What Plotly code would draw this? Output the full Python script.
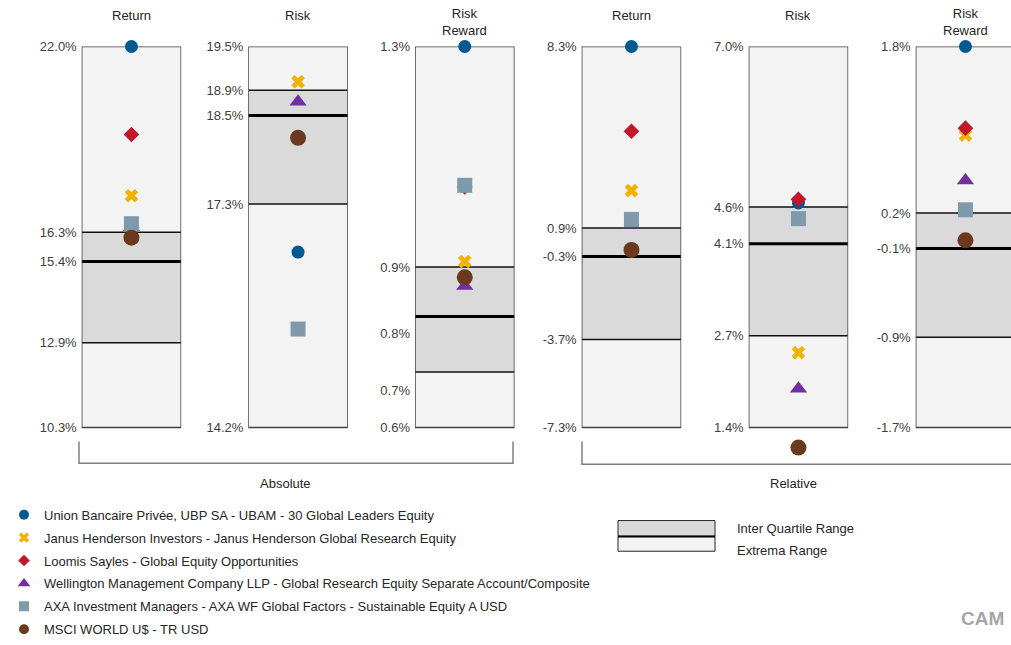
import plotly.graph_objects as go

W, H = 1011, 645

# panel titles and groups
panel_titles = ["Return", "Risk", "Risk<br>Reward", "Return", "Risk", "Risk<br>Reward"]
group_names = ["Absolute", "Relative"]

# box values per panel (in %)
box_min = [10.3, 14.2, 0.6, -7.3, 1.4, -1.7]
box_q1 = [12.9, 17.31, 0.702, -3.7, 2.75, -0.87]
box_med = [15.4, 18.54, 0.804, -0.3, 4.1, -0.055]
box_q3 = [16.3, 18.89, 0.895, 0.87, 4.64, 0.27]
box_max = [22.0, 19.5, 1.3, 8.3, 7.0, 1.8]

# tick labels as printed on the chart
tick_vals = [
    [22.0, 16.3, 15.4, 12.9, 10.3],
    [19.5, 18.89, 18.54, 17.31, 14.2],
    [1.3, 0.895, 0.773, 0.669, 0.6],
    [8.3, 0.87, -0.3, -3.7, -7.3],
    [7.0, 4.64, 4.1, 2.75, 1.4],
    [1.8, 0.27, -0.055, -0.87, -1.7],
]
tick_text = [
    ["22.0%", "16.3%", "15.4%", "12.9%", "10.3%"],
    ["19.5%", "18.9%", "18.5%", "17.3%", "14.2%"],
    ["1.3%", "0.9%", "0.8%", "0.7%", "0.6%"],
    ["8.3%", "0.9%", "-0.3%", "-3.7%", "-7.3%"],
    ["7.0%", "4.6%", "4.1%", "2.7%", "1.4%"],
    ["1.8%", "0.2%", "-0.1%", "-0.9%", "-1.7%"],
]

# series values per panel
ubp = [22.0, 16.64, 1.3, 8.3, 4.70, 1.8]
janus = [17.42, 19.01, 0.905, 2.40, 2.50, 0.985]
loomis = [19.30, 18.23, 1.042, 4.83, 4.755, 1.05]
wellington = [16.45, 18.73, 0.86, 1.0, 1.97, 0.57]
axa = [16.56, 15.57, 1.045, 1.22, 4.47, 0.30]
msci = [16.13, 18.23, 0.876, -0.03, 1.105, 0.02]

# name, values, symbol, colour, marker size, legend marker size
series = [
    ("Union Bancaire Privée, UBP SA - UBAM - 30 Global Leaders Equity", ubp, "circle", "#005A8F", 13, 10),
    ("Janus Henderson Investors - Janus Henderson Global Research Equity", janus, "x", "#F2B200", 12, 9),
    ("Loomis Sayles - Global Equity Opportunities", loomis, "diamond", "#C4162B", 12, 9),
    ("Wellington Management Company LLP - Global Research Equity Separate Account/Composite", wellington, "triangle-up", "#7030A0", 15, 11),
    ("AXA Investment Managers - AXA WF Global Factors - Sustainable Equity A USD", axa, "square", "#7F9BAB", 15, 10),
    ("MSCI WORLD U$ - TR USD", msci, "circle", "#6B3A1E", 16, 10),
]

FONT = "Arial, Liberation Sans, sans-serif"
FS = 13

# pixel layout of the panels
left_px = [81.7, 248.3, 415.0, 581.7, 748.7, 915.7]
box_w = 99.5
top_px, bot_px = 47, 432
pad_px = 35  # room below each box for points that fall outside the extrema
VK = 1.01    # small vertical correction for the capture


def px_x(v):
    return v / W


def px_y(v):
    return 1 - v * VK / H


fig = go.Figure()

# legend entries (no data, only the key)
for name, vals, sym, col, size, lsize in series:
    fig.add_trace(go.Scatter(
        x=[None], y=[None], mode="markers", name=name, legendgroup=name,
        marker=dict(symbol=sym, color=col, size=lsize, line=dict(width=0)),
        showlegend=True,
    ))

for i in range(6):
    for name, vals, sym, col, size, lsize in series:
        fig.add_trace(go.Scatter(
            x=[0.5], y=[vals[i]],
            xaxis=f"x{i + 1}", yaxis=f"y{i + 1}",
            mode="markers", name=name, legendgroup=name,
            showlegend=False, cliponaxis=False,
            marker=dict(symbol=sym, color=col, size=size, line=dict(width=0)),
            hoverinfo="skip",
        ))

shapes = []
annotations = []
axes = {}
for i in range(6):
    x0 = left_px[i]
    x1 = min(x0 + box_w, W)
    xr = (x1 - x0) / box_w
    sfx = "" if i == 0 else str(i + 1)
    span = box_max[i] - box_min[i]
    ylo = box_min[i] - span * pad_px / (bot_px - top_px)
    axes[f"xaxis{sfx}"] = dict(domain=[px_x(x0), px_x(x1)], range=[0, xr],
                               visible=False, fixedrange=True)
    axes[f"yaxis{sfx}"] = dict(
        domain=[px_y(bot_px + pad_px), px_y(top_px)], range=[ylo, box_max[i]],
        anchor=f"x{i + 1}", showgrid=False, zeroline=False, showline=False,
        ticks="", tickvals=tick_vals[i], ticktext=tick_text[i],
        tickfont=dict(family=FONT, size=FS, color="#404040"),
        ticklabelstandoff=4, automargin=False, fixedrange=True,
    )
    xref, yref = f"x{i + 1}", f"y{i + 1}"
    shapes += [
        dict(type="rect", xref=xref, yref=yref, x0=0, x1=1, y0=box_min[i], y1=box_max[i],
             fillcolor="#F3F3F3", line=dict(width=0), layer="below"),
        dict(type="rect", xref=xref, yref=yref, x0=0, x1=1, y0=box_q1[i], y1=box_q3[i],
             fillcolor="#DADADA", line=dict(width=0), layer="below"),
        dict(type="line", xref=xref, yref=yref, x0=0, x1=1, y0=box_q1[i], y1=box_q1[i],
             line=dict(color="#111111", width=1.5), layer="below"),
        dict(type="line", xref=xref, yref=yref, x0=0, x1=1, y0=box_q3[i], y1=box_q3[i],
             line=dict(color="#111111", width=1.5), layer="below"),
        dict(type="line", xref=xref, yref=yref, x0=0, x1=1, y0=box_med[i], y1=box_med[i],
             line=dict(color="#000000", width=3), layer="below"),
        dict(type="rect", xref=xref, yref=yref, x0=0, x1=1, y0=box_min[i], y1=box_max[i],
             line=dict(color="#404040", width=1.5), layer="below"),
    ]
    title_y = 22 if "<br>" in panel_titles[i] else 16
    annotations.append(dict(
        text=panel_titles[i], xref="paper", yref="paper",
        x=px_x(x0 + box_w / 2), y=px_y(title_y), xanchor="center", yanchor="middle",
        showarrow=False, font=dict(family=FONT, size=FS, color="#262626"),
    ))

# brackets under the panel groups
brk = "#7F7F7F"
for (xa, xb, yb, lab, lx) in [(79, 513, 468, "Absolute", 285), (582, 1015, 469, "Relative", 793)]:
    shapes.append(dict(
        type="path", xref="paper", yref="paper",
        path=f"M {px_x(xa)},{px_y(446)} L {px_x(xa)},{px_y(yb)} L {px_x(xb)},{px_y(yb)} L {px_x(xb)},{px_y(446)}",
        line=dict(color=brk, width=1.5),
    ))
    annotations.append(dict(
        text=lab, xref="paper", yref="paper", x=px_x(lx), y=px_y(489),
        xanchor="center", yanchor="middle", showarrow=False,
        font=dict(family=FONT, size=FS, color="#262626"),
    ))

# range legend box
shapes += [
    dict(type="rect", xref="paper", yref="paper", x0=px_x(618), x1=px_x(715),
         y0=px_y(542), y1=px_y(526), fillcolor="#DADADA", line=dict(color="#262626", width=1)),
    dict(type="rect", xref="paper", yref="paper", x0=px_x(618), x1=px_x(715),
         y0=px_y(557), y1=px_y(542), fillcolor="#F3F3F3", line=dict(color="#262626", width=1)),
    dict(type="line", xref="paper", yref="paper", x0=px_x(618), x1=px_x(715),
         y0=px_y(542), y1=px_y(542), line=dict(color="#000000", width=2)),
]
for txt, yy in [("Inter Quartile Range", 534), ("Extrema Range", 556)]:
    annotations.append(dict(
        text=txt, xref="paper", yref="paper", x=px_x(735), y=px_y(yy),
        xanchor="left", yanchor="middle", showarrow=False,
        font=dict(family=FONT, size=FS, color="#262626"),
    ))

annotations.append(dict(
    text="<b>CAM</b>", xref="paper", yref="paper", x=px_x(959), y=px_y(625),
    xanchor="left", yanchor="middle", showarrow=False,
    font=dict(family=FONT, size=19, color="#A6A6A6"),
))

fig.update_layout(
    width=W, height=H, template="none",
    margin=dict(l=0, r=0, t=0, b=0),
    paper_bgcolor="white", plot_bgcolor="rgba(0,0,0,0)",
    shapes=shapes, annotations=annotations,
    legend=dict(
        x=px_x(4), y=px_y(505), xanchor="left", yanchor="top",
        font=dict(family=FONT, size=FS, color="#262626"),
        itemsizing="trace", tracegroupgap=3, bgcolor="rgba(0,0,0,0)",
    ),
    showlegend=True,
    **axes,
)

# drop the default body margin so the figure sits at the page origin
page_js = (
    "document.documentElement.style.overflow='hidden';"
    "document.body.style.margin='0';"
    "document.body.style.overflow='hidden';"
    "document.body.style.height='645px';"
)
fig.write_html("out.html", config={"displayModeBar": False}, post_script=page_js)
